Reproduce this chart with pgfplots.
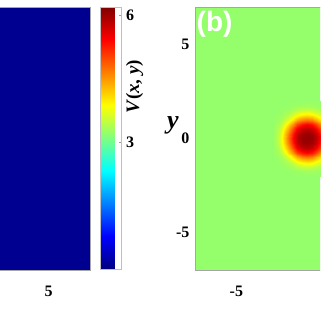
\documentclass[border=0pt]{standalone}
\usepackage{pgfplots}
\pgfplotsset{compat=1.18}
\usepackage{fontspec}
\setmainfont{Liberation Serif}
\newfontfamily\sansb{Liberation Sans}
\begin{document}
\begin{tikzpicture}[x=1pt,y=1pt]
\path[use as bounding box, clip] (0,0) rectangle (320,320);
\pgfplotsset{
  panel/.style={
    scale only axis, width=270.7pt, height=263pt,
    xmin=-7.2, xmax=7.2, ymin=-7, ymax=7,
    enlargelimits=false, axis on top,
    major tick length=0pt,
    axis line style={draw=gray!70, line width=0.4pt},
    /pgf/number format/assume math mode=true,
    ticklabel style={font=\bfseries\fontsize{16}{18}\selectfont},
    xticklabel style={yshift=-12pt},
    yticklabel style={xshift=-2pt},
    colormap/jet,
  }
}
% ---------- panel (a) ----------
\begin{axis}[panel,
  at={(90pt,313pt)}, anchor=north east,
  xtick={5}, ytick=\empty,
  point meta min=0, point meta max=6.19,
  colorbar,
  colorbar style={
    at={(parent axis.north east)}, anchor=north west, xshift=2pt,
    scale only axis, width=21pt, height=262pt,
    ytick={3,6}, ytick pos=right, tick align=inside,
    major tick length=3pt, tick style={draw=gray!80},
    axis line style={draw=gray!50},
    /pgf/number format/assume math mode=true,
    yticklabel style={font=\bfseries\fontsize{16}{18}\selectfont, xshift=1pt},
    ylabel={\textbf{\textit{V}(\textit{x}, \textit{y})}},
    ylabel style={font=\fontsize{19}{21}\selectfont, at={(rel axis cs:1,0.695)}, anchor=center, yshift=-13pt},
  },
]
\addplot[surf, shader=flat, mesh/cols=2, point meta=explicit] coordinates {
(-7.2,-7) [0.1] (7.2,-7) [0.1]
(-7.2,7) [0.1] (7.2,7) [0.1]
};
\end{axis}
% ---------- panel (b) ----------
\begin{axis}[panel,
  at={(195pt,313pt)}, anchor=north west,
  xtick={-5}, ytick={-5,0,5}, clip=false,
  point meta min=-1, point meta max=1,
]
\addplot[surf, shader=flat, mesh/cols=2, point meta=explicit] coordinates {
(-7.2,-7) [0.04] (7.2,-7) [0.04]
(-7.2,7) [0.04] (7.2,7) [0.04]
};
\addplot[surf, shader=interp, mesh/cols=13, point meta=explicit] coordinates {
(-3,-2)[0.04] (-2.75,-2)[0.04] (-2.5,-2)[0.04] (-2.25,-2)[0.041] (-2,-2)[0.042] (-1.75,-2)[0.043] (-1.5,-2)[0.044] (-1.25,-2)[0.045] (-1,-2)[0.044] (-0.75,-2)[0.043] (-0.5,-2)[0.042] (-0.25,-2)[0.041] (0,-2)[0.04]
(-3,-1.75)[0.04] (-2.75,-1.75)[0.04] (-2.5,-1.75)[0.042] (-2.25,-1.75)[0.044] (-2,-1.75)[0.05] (-1.75,-1.75)[0.06] (-1.5,-1.75)[0.06] (-1.25,-1.75)[0.07] (-1,-1.75)[0.06] (-0.75,-1.75)[0.06] (-0.5,-1.75)[0.05] (-0.25,-1.75)[0.044] (0,-1.75)[0.042]
(-3,-1.5)[0.04] (-2.75,-1.5)[0.042] (-2.5,-1.5)[0.05] (-2.25,-1.5)[0.06] (-2,-1.5)[0.08] (-1.75,-1.5)[0.11] (-1.5,-1.5)[0.13] (-1.25,-1.5)[0.14] (-1,-1.5)[0.13] (-0.75,-1.5)[0.11] (-0.5,-1.5)[0.08] (-0.25,-1.5)[0.06] (0,-1.5)[0.05]
(-3,-1.25)[0.042] (-2.75,-1.25)[0.05] (-2.5,-1.25)[0.06] (-2.25,-1.25)[0.10] (-2,-1.25)[0.16] (-1.75,-1.25)[0.23] (-1.5,-1.25)[0.28] (-1.25,-1.25)[0.30] (-1,-1.25)[0.28] (-0.75,-1.25)[0.23] (-0.5,-1.25)[0.16] (-0.25,-1.25)[0.10] (0,-1.25)[0.06]
(-3,-1)[0.044] (-2.75,-1)[0.06] (-2.5,-1)[0.10] (-2.25,-1)[0.18] (-2,-1)[0.30] (-1.75,-1)[0.41] (-1.5,-1)[0.49] (-1.25,-1)[0.52] (-1,-1)[0.49] (-0.75,-1)[0.41] (-0.5,-1)[0.30] (-0.25,-1)[0.18] (0,-1)[0.10]
(-3,-0.75)[0.05] (-2.75,-0.75)[0.08] (-2.5,-0.75)[0.16] (-2.25,-0.75)[0.30] (-2,-0.75)[0.46] (-1.75,-0.75)[0.61] (-1.5,-0.75)[0.70] (-1.25,-0.75)[0.74] (-1,-0.75)[0.70] (-0.75,-0.75)[0.61] (-0.5,-0.75)[0.46] (-0.25,-0.75)[0.30] (0,-0.75)[0.16]
(-3,-0.5)[0.06] (-2.75,-0.5)[0.11] (-2.5,-0.5)[0.23] (-2.25,-0.5)[0.41] (-2,-0.5)[0.61] (-1.75,-0.5)[0.77] (-1.5,-0.5)[0.86] (-1.25,-0.5)[0.89] (-1,-0.5)[0.86] (-0.75,-0.5)[0.77] (-0.5,-0.5)[0.61] (-0.25,-0.5)[0.41] (0,-0.5)[0.23]
(-3,-0.25)[0.06] (-2.75,-0.25)[0.13] (-2.5,-0.25)[0.28] (-2.25,-0.25)[0.49] (-2,-0.25)[0.70] (-1.75,-0.25)[0.86] (-1.5,-0.25)[0.93] (-1.25,-0.25)[0.95] (-1,-0.25)[0.93] (-0.75,-0.25)[0.86] (-0.5,-0.25)[0.70] (-0.25,-0.25)[0.49] (0,-0.25)[0.28]
(-3,0)[0.07] (-2.75,0)[0.14] (-2.5,0)[0.30] (-2.25,0)[0.52] (-2,0)[0.74] (-1.75,0)[0.89] (-1.5,0)[0.95] (-1.25,0)[0.96] (-1,0)[0.95] (-0.75,0)[0.89] (-0.5,0)[0.74] (-0.25,0)[0.52] (0,0)[0.30]
(-3,0.25)[0.06] (-2.75,0.25)[0.13] (-2.5,0.25)[0.28] (-2.25,0.25)[0.49] (-2,0.25)[0.70] (-1.75,0.25)[0.86] (-1.5,0.25)[0.93] (-1.25,0.25)[0.95] (-1,0.25)[0.93] (-0.75,0.25)[0.86] (-0.5,0.25)[0.70] (-0.25,0.25)[0.49] (0,0.25)[0.28]
(-3,0.5)[0.06] (-2.75,0.5)[0.11] (-2.5,0.5)[0.23] (-2.25,0.5)[0.41] (-2,0.5)[0.61] (-1.75,0.5)[0.77] (-1.5,0.5)[0.86] (-1.25,0.5)[0.89] (-1,0.5)[0.86] (-0.75,0.5)[0.77] (-0.5,0.5)[0.61] (-0.25,0.5)[0.41] (0,0.5)[0.23]
(-3,0.75)[0.05] (-2.75,0.75)[0.08] (-2.5,0.75)[0.16] (-2.25,0.75)[0.30] (-2,0.75)[0.46] (-1.75,0.75)[0.61] (-1.5,0.75)[0.70] (-1.25,0.75)[0.74] (-1,0.75)[0.70] (-0.75,0.75)[0.61] (-0.5,0.75)[0.46] (-0.25,0.75)[0.30] (0,0.75)[0.16]
(-3,1)[0.044] (-2.75,1)[0.06] (-2.5,1)[0.10] (-2.25,1)[0.18] (-2,1)[0.30] (-1.75,1)[0.41] (-1.5,1)[0.49] (-1.25,1)[0.52] (-1,1)[0.49] (-0.75,1)[0.41] (-0.5,1)[0.30] (-0.25,1)[0.18] (0,1)[0.10]
(-3,1.25)[0.042] (-2.75,1.25)[0.05] (-2.5,1.25)[0.06] (-2.25,1.25)[0.10] (-2,1.25)[0.16] (-1.75,1.25)[0.23] (-1.5,1.25)[0.28] (-1.25,1.25)[0.30] (-1,1.25)[0.28] (-0.75,1.25)[0.23] (-0.5,1.25)[0.16] (-0.25,1.25)[0.10] (0,1.25)[0.06]
(-3,1.5)[0.04] (-2.75,1.5)[0.042] (-2.5,1.5)[0.05] (-2.25,1.5)[0.06] (-2,1.5)[0.08] (-1.75,1.5)[0.11] (-1.5,1.5)[0.13] (-1.25,1.5)[0.14] (-1,1.5)[0.13] (-0.75,1.5)[0.11] (-0.5,1.5)[0.08] (-0.25,1.5)[0.06] (0,1.5)[0.05]
(-3,1.75)[0.04] (-2.75,1.75)[0.04] (-2.5,1.75)[0.042] (-2.25,1.75)[0.044] (-2,1.75)[0.05] (-1.75,1.75)[0.06] (-1.5,1.75)[0.06] (-1.25,1.75)[0.07] (-1,1.75)[0.06] (-0.75,1.75)[0.06] (-0.5,1.75)[0.05] (-0.25,1.75)[0.044] (0,1.75)[0.042]
(-3,2)[0.04] (-2.75,2)[0.04] (-2.5,2)[0.04] (-2.25,2)[0.041] (-2,2)[0.042] (-1.75,2)[0.043] (-1.5,2)[0.044] (-1.25,2)[0.045] (-1,2)[0.044] (-0.75,2)[0.043] (-0.5,2)[0.042] (-0.25,2)[0.041] (0,2)[0.04]
};
\node[anchor=north west, inner sep=0pt, text=white, font=\sansb\bfseries\fontsize{28}{28}\selectfont] at (rel axis cs:0,1) [xshift=1.5pt, yshift=-4pt] {(b)};
\node[anchor=center, inner sep=0pt, font=\bfseries\itshape\fontsize{26}{28}\selectfont] at (rel axis cs:0,0.551) [xshift=-22pt] {y};
\end{axis}
\end{tikzpicture}
\end{document}
